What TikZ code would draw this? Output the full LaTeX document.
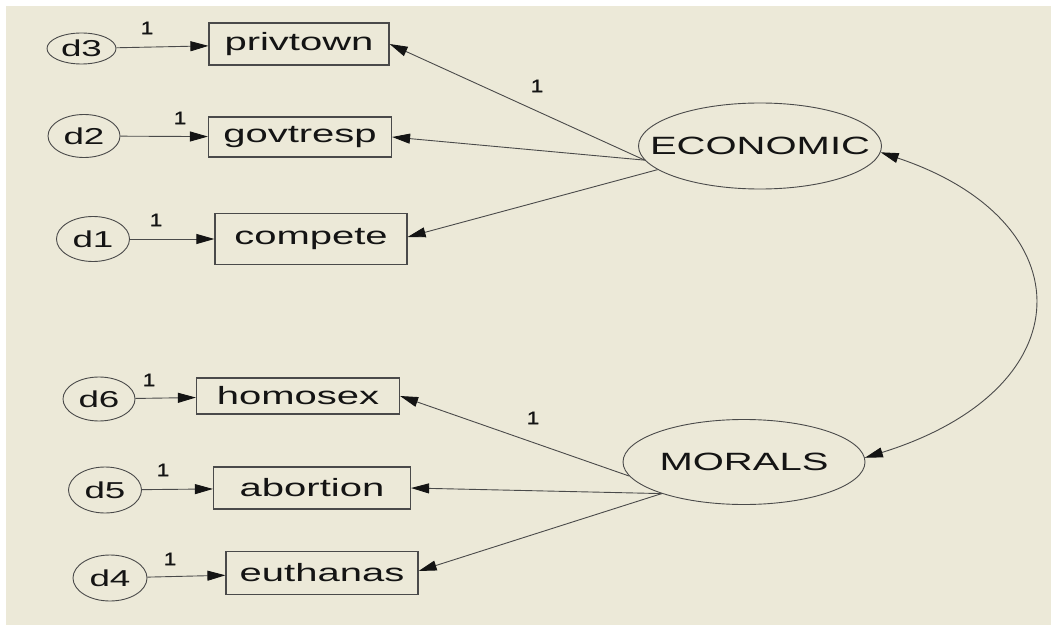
\documentclass[tikz,border=0pt]{standalone}
\usepackage{fontspec}
\setmainfont{Liberation Sans}[FakeStretch=1.6]
\newfontfamily\weightfont{Liberation Sans}[FakeStretch=1.25, FakeBold=1.2]
\usetikzlibrary{shapes.geometric,arrows.meta}
\definecolor{panel}{HTML}{ECE9D8}
\definecolor{ink}{HTML}{141414}
\definecolor{wire}{HTML}{4A4A4A}
% label of fixed width zero, so that an ellipse keeps its own size
\newcommand{\ovaltext}[1]{\makebox[0pt]{#1}}
\begin{document}
\begin{tikzpicture}[x=1pt,y=-1pt,
  obs/.style={draw=wire, line width=1.2pt, rectangle, inner sep=0pt, text=ink,
    font=\fontsize{25}{30}\selectfont},
  err/.style={draw=wire, line width=0.9pt, ellipse, inner sep=0pt, text=ink,
    font=\fontsize{23}{28}\selectfont},
  lat/.style={draw=wire, line width=0.9pt, ellipse, inner sep=0pt,
    minimum width=243pt, minimum height=86pt, text=ink,
    font=\fontsize{25}{30}\selectfont},
  link/.style={draw=wire, line width=0.9pt,
    -{Triangle[length=18pt,width=10pt,color=ink]}},
  cov/.style={draw=wire, line width=0.9pt,
    {Triangle[length=18pt,width=10pt,color=ink]}-{Triangle[length=18pt,width=10pt,color=ink]}},
  wt/.style={text=ink, inner sep=0pt, font=\weightfont\fontsize{18}{20}\selectfont}
]
% canvas
\useasboundingbox (0,0) rectangle (1051,631);
\fill[white] (0,0) rectangle (1051,631);
\fill[panel] (6,6) rectangle (1051,625);

% observed indicators
\node[obs, minimum width=180pt, minimum height=42pt] (privtown) at (299,44)  {privtown};
\node[obs, minimum width=183pt, minimum height=40pt] (govtresp) at (300,137) {govtresp};
\node[obs, minimum width=192pt, minimum height=51pt] (compete)  at (311,239) {compete};
\node[obs, minimum width=203pt, minimum height=36pt] (homosex)  at (298,396) {homosex};
\node[obs, minimum width=197pt, minimum height=42pt] (abortion) at (312,488) {abortion};
\node[obs, minimum width=192pt, minimum height=43pt] (euthanas) at (322,573) {euthanas};

% error terms
\node[err, minimum width=69pt, minimum height=31pt] (d3) at (81.5,48.5) {\ovaltext{d3}};
\node[err, minimum width=72pt, minimum height=43pt] (d2) at (84,136)  {\ovaltext{d2}};
\node[err, minimum width=73pt, minimum height=45pt] (d1) at (93,239)  {\ovaltext{d1}};
\node[err, minimum width=72pt, minimum height=44pt] (d6) at (99,399)  {\ovaltext{d6}};
\node[err, minimum width=73pt, minimum height=46pt] (d5) at (105,490) {\ovaltext{d5}};
\node[err, minimum width=74pt, minimum height=46pt] (d4) at (110,578) {\ovaltext{d4}};

% latent factors
\node[lat] (econ) at (760,146) {\ovaltext{ECONOMIC}};
\node[lat, minimum width=242pt, minimum height=85pt] (moral) at (744,462) {\ovaltext{MORALS}};

% error paths
\draw[link] (d3) -- (privtown);
\draw[link] (d2) -- (govtresp);
\draw[link] (d1) -- (compete);
\draw[link] (d6) -- (homosex);
\draw[link] (d5) -- (abortion);
\draw[link] (d4) -- (euthanas);

% factor loadings
\draw[link] (econ.187) -- (privtown.east);
\draw[link] (econ.187) -- (govtresp.east);
\draw[link] (econ.193) -- ([yshift=2pt]compete.east);
\draw[link] (moral.187) -- (homosex.east);
\draw[link] (moral.201) -- (abortion.east);
\draw[link] (moral.201) -- ([yshift=2pt]euthanas.east);

% factor covariance
\draw[cov] (econ.-3) .. controls (1086,221) and (1086,389) .. (moral.2);

% fixed weights
\node[wt] (w3) at (147,28)  {1};
\node[wt] (w2) at (180,118) {1};
\node[wt] (w1) at (156,220) {1};
\node[wt] (w6) at (149,380) {1};
\node[wt] (w5) at (163,470) {1};
\node[wt] (w4) at (170,559) {1};
\node[wt] (le) at (537,86)  {1};
\node[wt] (lm) at (533,418) {1};
\end{tikzpicture}
\end{document}
